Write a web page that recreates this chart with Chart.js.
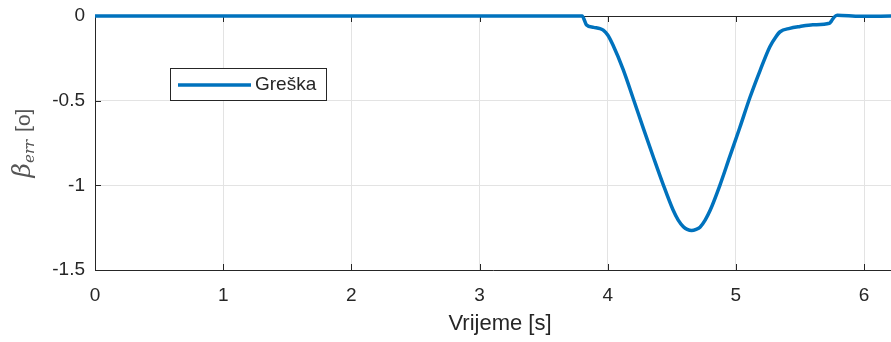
<!DOCTYPE html>
<html>
<head>
<meta charset="utf-8">
<script src="https://cdn.jsdelivr.net/npm/chart.js@4.4.0/dist/chart.umd.min.js"></script>
<style>
  html, body { margin: 0; padding: 0; background: #fff; }
  #wrap { width: 891px; height: 342px; }
</style>
</head>
<body>
<div id="wrap"><canvas id="grafico"></canvas></div>
<script>
// podaci očitani sa slike
const vrijeme = [0, 1, 2, 3, 3.80, 3.835, 3.89, 3.94, 3.965, 4.0, 4.04, 4.12, 4.20, 4.28, 4.355,
  4.43, 4.51, 4.55, 4.59, 4.62, 4.655, 4.69, 4.72, 4.76, 4.80, 4.875, 4.95, 5.03, 5.11, 5.19,
  5.265, 5.31, 5.345, 5.42, 5.50, 5.60, 5.73, 5.745, 5.765, 5.79, 5.97, 6.21];
const greska = [0, 0, 0, 0, 0, -0.053, -0.067, -0.075, -0.083, -0.112, -0.17, -0.315, -0.49,
  -0.668, -0.831, -0.99, -1.146, -1.205, -1.244, -1.26, -1.267, -1.26, -1.247, -1.205, -1.146,
  -1.0, -0.835, -0.66, -0.48, -0.319, -0.181, -0.125, -0.093, -0.073, -0.062, -0.052,
  -0.043, -0.03, -0.008, 0.004, -0.002, 0];
const xTicks = [0, 1, 2, 3, 4, 5, 6];
const yTicks = [0, -0.5, -1, -1.5];
const legenda = 'Greška';
const xNaslov = 'Vrijeme [s]';

const tamna = '#262626';
const sans = '"Liberation Sans", Arial, sans-serif';

// okvir, unutrašnje crtice, naslovi osi i legenda
const matlabStil = {
  id: 'matlabStil',
  beforeDatasetsDraw(chart) {
    const { ctx, chartArea: a, scales } = chart;
    ctx.save();
    ctx.strokeStyle = tamna;
    ctx.lineWidth = 1;
    ctx.beginPath();
    ctx.moveTo(a.left + 0.5, a.top + 0.5);
    ctx.lineTo(a.right + 0.5, a.top + 0.5);
    ctx.moveTo(a.left + 0.5, a.top);
    ctx.lineTo(a.left + 0.5, a.bottom + 0.5);
    ctx.lineTo(a.right + 0.5, a.bottom + 0.5);
    xTicks.forEach(v => {
      const x = Math.round(scales.x.getPixelForValue(v)) + 0.5;
      ctx.moveTo(x, a.bottom); ctx.lineTo(x, a.bottom - 6);
      ctx.moveTo(x, a.top); ctx.lineTo(x, a.top + 6);
    });
    yTicks.forEach(v => {
      const y = Math.round(scales.y.getPixelForValue(v)) + 0.5;
      ctx.moveTo(a.left, y); ctx.lineTo(a.left + 6, y);
    });
    ctx.stroke();
    ctx.restore();
  },
  afterDraw(chart) {
    const { ctx, scales } = chart;
    ctx.save();
    // naslov x osi
    ctx.fillStyle = tamna;
    ctx.font = '22px ' + sans;
    ctx.textAlign = 'center';
    ctx.textBaseline = 'middle';
    ctx.fillText(xNaslov, scales.x.getPixelForValue(3.16), 324);

    // naslov y osi: beta_err [o]
    ctx.translate(23, 143);
    ctx.rotate(-Math.PI / 2);
    ctx.fillStyle = '#555555';
    const fB = 'italic 25px "DejaVu Serif", "Liberation Serif", serif';
    const fS = 'italic 15px "DejaVu Serif", "Liberation Serif", serif';
    const fT = '21px ' + sans;
    ctx.font = fB; const wB = ctx.measureText('β').width;
    ctx.font = fS; const wS = ctx.measureText('err').width;
    ctx.font = fT; const wT = ctx.measureText(' [o]').width;
    let x0 = -(wB + wS + 2 + wT) / 2;
    ctx.textAlign = 'left';
    ctx.textBaseline = 'alphabetic';
    ctx.font = fB; ctx.fillText('β', x0, 7); x0 += wB;
    ctx.font = fS; ctx.fillText('err', x0, 11); x0 += wS + 2;
    ctx.font = fT; ctx.fillText(' [o]', x0, 7);
    ctx.restore();

    // legenda
    ctx.save();
    ctx.fillStyle = '#fff';
    ctx.strokeStyle = tamna;
    ctx.lineWidth = 1;
    ctx.fillRect(170.5, 68.5, 156, 32);
    ctx.strokeRect(170.5, 68.5, 156, 32);
    ctx.strokeStyle = '#0072BD';
    ctx.lineWidth = 3.5;
    ctx.beginPath();
    ctx.moveTo(178, 85); ctx.lineTo(251, 85);
    ctx.stroke();
    ctx.fillStyle = tamna;
    ctx.font = '19px ' + sans;
    ctx.textBaseline = 'middle';
    ctx.fillText(legenda, 255, 85);
    ctx.restore();
  }
};

const ctx = document.getElementById('grafico').getContext('2d');
const grafico = new Chart(ctx, {
  type: 'line',
  data: {
    datasets: [{
      label: legenda,
      data: vrijeme.map((t, i) => ({ x: t, y: greska[i] })),
      borderColor: '#0072BD',
      borderWidth: 3.5,
      pointRadius: 0,
      cubicInterpolationMode: 'monotone',
      clip: false,
      fill: false
    }]
  },
  options: {
    responsive: true,
    maintainAspectRatio: false,
    animation: false,
    layout: { padding: { top: 16, right: 0, left: 0, bottom: 0 } },
    plugins: { legend: { display: false }, tooltip: { enabled: false } },
    scales: {
      x: {
        type: 'linear',
        min: 0,
        max: 6.21,
        afterBuildTicks: s => { s.ticks = xTicks.map(v => ({ value: v })); },
        afterFit: s => { s.height = 72; s.paddingLeft = 0; s.paddingRight = 0; },
        border: { display: false },
        grid: { color: '#e3e3e3', drawTicks: false },
        ticks: {
          color: tamna,
          padding: 14,
          callback: v => String(v),
          font: { size: 19, family: sans }
        }
      },
      y: {
        min: -1.5,
        max: 0,
        afterBuildTicks: s => { s.ticks = yTicks.map(v => ({ value: v })); },
        afterFit: s => { s.width = 95; s.paddingTop = 0; s.paddingBottom = 0; },
        border: { display: false },
        grid: { color: '#e3e3e3', drawTicks: false },
        ticks: {
          color: tamna,
          padding: 10,
          callback: v => String(v),
          font: { size: 19, family: sans }
        }
      }
    }
  },
  plugins: [matlabStil]
});
</script>
</body>
</html>
